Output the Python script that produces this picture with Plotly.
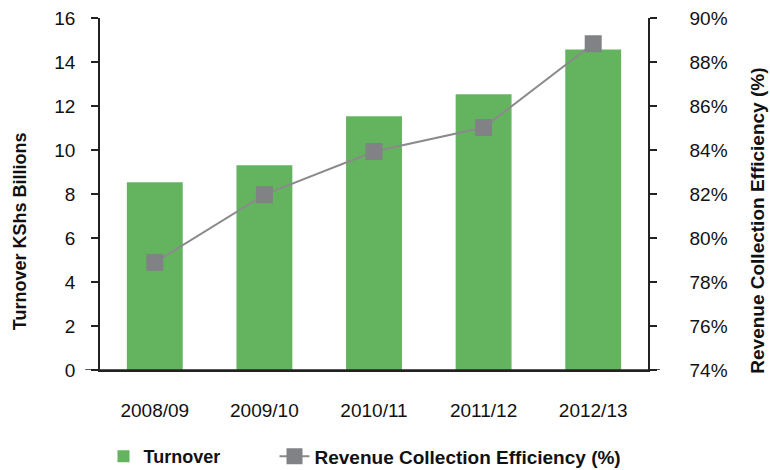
import plotly.graph_objects as go

categories = ["2008/09", "2009/10", "2010/11", "2011/12", "2012/13"]
turnover = [8.53, 9.31, 11.53, 12.53, 14.57]
efficiency = [78.89, 81.97, 83.93, 85.02, 88.83]
left_ticks = [0, 2, 4, 6, 8, 10, 12, 14, 16]
right_ticks = [74, 76, 78, 80, 82, 84, 86, 88, 90]

FONT = "Liberation Sans, Arial, Helvetica, sans-serif"
AX = "#222222"

fig = go.Figure()
fig.add_trace(go.Bar(
    x=categories, y=turnover, name="Turnover",
    marker=dict(color="#64B45F", line=dict(width=0)),
    legend="legend",
))
fig.add_trace(go.Scatter(
    x=categories, y=efficiency, name="Revenue Collection Efficiency (%)",
    yaxis="y2", mode="lines+markers",
    line=dict(color="#8A8A8C", width=2),
    marker=dict(symbol="square", size=17, color="#818285"),
    legend="legend2",
))

legend_common = dict(
    orientation="h", xref="container", yref="container",
    xanchor="left", yanchor="middle", y=13.5 / 470,
    bgcolor="rgba(0,0,0,0)", borderwidth=0,
)

fig.update_layout(
    width=770, height=470,
    margin=dict(l=100, r=122, t=17.5, b=100),
    paper_bgcolor="white", plot_bgcolor="white",
    font=dict(family=FONT, size=19, color="#111111"),
    bargap=0.49,
    showlegend=True,
    legend=dict(legend_common, x=103.5 / 770,
                font=dict(family=FONT, size=18, color="#111111", weight="bold")),
    legend2=dict(legend_common, x=274.5 / 770,
                 font=dict(family=FONT, size=19, color="#111111", weight="bold")),
    xaxis=dict(
        showline=True, linecolor=AX, linewidth=1.5,
        ticks="", ticklabelstandoff=22, automargin=False,
        tickfont=dict(size=19),
    ),
    yaxis=dict(
        range=[0, 16], tickvals=left_ticks,
        showline=True, linecolor=AX, linewidth=1.5,
        ticks="outside", ticklen=7, tickcolor=AX, tickwidth=1.5,
        showgrid=False, zeroline=False, ticklabelstandoff=12,
        automargin=False, tickfont=dict(size=19),
    ),
    yaxis2=dict(
        range=[74, 90], tickvals=right_ticks,
        ticktext=[f"{v}%" for v in right_ticks],
        overlaying="y", side="right",
        showline=True, linecolor=AX, linewidth=1.5,
        ticks="outside", ticklen=7, tickcolor=AX, tickwidth=1.5,
        showgrid=False, zeroline=False, ticklabelstandoff=29,
        automargin=False, tickfont=dict(size=19),
    ),
    annotations=[
        dict(text="<b>Turnover KShs Billions</b>", textangle=-90,
             xref="paper", yref="paper", x=(20 - 100) / 548, y=(370 - 231) / 352.5,
             xanchor="center", yanchor="middle", showarrow=False,
             font=dict(size=18, color="#111111")),
        dict(text="<b>Revenue Collection Efficiency (%)</b>", textangle=-90,
             xref="paper", yref="paper", x=(757.5 - 100) / 548, y=(370 - 221) / 352.5,
             xanchor="center", yanchor="middle", showarrow=False,
             font=dict(size=19, color="#111111")),
    ],
    shapes=[
        dict(type="line", xref="paper", yref="y", x0=-0.027, x1=1.022, y0=0, y1=0,
             line=dict(color=AX, width=1.5)),
        dict(type="line", xref="paper", yref="y", x0=0, x1=0, y0=0, y1=-0.36,
             line=dict(color=AX, width=1.5)),
        dict(type="line", xref="paper", yref="y", x0=1, x1=1, y0=0, y1=-0.36,
             line=dict(color=AX, width=1.5)),
    ],
)

fig.write_html("out.html")
